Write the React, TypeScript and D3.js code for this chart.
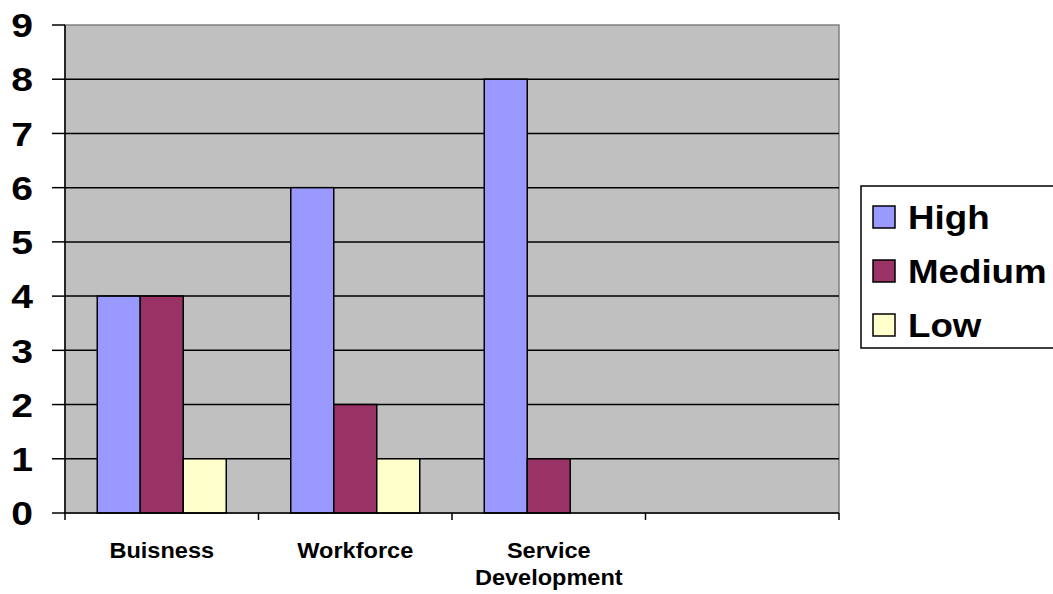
import React from "react";
import * as d3 from "d3";

const categories = ["Buisness", "Workforce", "Service Development", ""];
const categoryLines = [["Buisness"], ["Workforce"], ["Service", "Development"], [""]];
const seriesNames = ["High", "Medium", "Low"];
const seriesColors = ["#9999FF", "#993366", "#FFFFCC"];
const highValues = [4, 6, 8, null];
const mediumValues = [4, 2, 1, null];
const lowValues = [1, 1, 0, null];
const yTicks = [0, 1, 2, 3, 4, 5, 6, 7, 8, 9];

const W = 1053;
const H = 594;
const plot = { left: 65, right: 839, top: 25, bottom: 513 };
const FONT = "Arial, 'Liberation Sans', sans-serif";

export default function App() {
  const x = d3.scaleBand<string>().domain(categories).range([plot.left, plot.right]).padding(0);
  const xs = d3
    .scaleBand<string>()
    .domain(seriesNames)
    .range([0, x.bandwidth()])
    .paddingInner(0)
    .paddingOuter(0.75);
  const y = d3.scaleLinear().domain([0, 9]).range([plot.bottom, plot.top]);
  const seriesValues = [highValues, mediumValues, lowValues];

  const tickXs = categories.map((c) => x(c) as number).concat([plot.right]);

  return (
    <svg
      width={W}
      height={H}
      style={{ position: "absolute", left: 0, top: 0, background: "#fff" }}
      fontFamily={FONT}
    >
      <rect
        x={plot.left}
        y={plot.top}
        width={plot.right - plot.left}
        height={plot.bottom - plot.top}
        fill="#C0C0C0"
        stroke="#808080"
        strokeWidth={1.5}
      />
      {yTicks
        .filter((t) => t > 0 && t < 9)
        .map((t) => (
          <line
            key={"g" + t}
            x1={plot.left}
            x2={plot.right}
            y1={y(t)}
            y2={y(t)}
            stroke="#000"
            strokeWidth={1.5}
          />
        ))}
      {categories.map((c, ci) =>
        seriesNames.map((s, si) => {
          const v = seriesValues[si][ci];
          if (v === null || v === undefined || v === 0) return null;
          return (
            <rect
              key={c + s}
              x={(x(c) as number) + (xs(s) as number)}
              y={y(v)}
              width={xs.bandwidth()}
              height={y(0) - y(v)}
              fill={seriesColors[si]}
              stroke="#000"
              strokeWidth={1.5}
            />
          );
        })
      )}
      <line x1={plot.left} x2={plot.left} y1={plot.top} y2={plot.bottom} stroke="#000" strokeWidth={1.5} />
      <line x1={plot.left} x2={plot.right} y1={plot.bottom} y2={plot.bottom} stroke="#000" strokeWidth={1.5} />
      {yTicks.map((t) => (
        <g key={"yt" + t}>
          <line x1={plot.left - 13} x2={plot.left} y1={y(t)} y2={y(t)} stroke="#000" strokeWidth={1.5} />
          <text
            transform={`translate(33,${y(t)}) scale(1.15,1)`}
            dy="0.36em"
            textAnchor="end"
            fontSize={34}
            fontWeight="bold"
            fill="#000"
          >
            {t}
          </text>
        </g>
      ))}
      {tickXs.map((tx, i) => (
        <line key={"xt" + i} x1={tx} x2={tx} y1={plot.bottom} y2={plot.bottom + 7} stroke="#000" strokeWidth={1.5} />
      ))}
      {categories.map((c, ci) => (
        <text
          key={"cl" + ci}
          transform={`translate(${(x(c) as number) + x.bandwidth() / 2},558) scale(1.07,1)`}
          textAnchor="middle"
          fontSize={22}
          fontWeight="bold"
          fill="#000"
        >
          {categoryLines[ci].map((ln, li) => (
            <tspan key={li} x={0} dy={li === 0 ? 0 : 27}>
              {ln}
            </tspan>
          ))}
        </text>
      ))}
      <rect x={861} y={186} width={220} height={162} fill="#fff" stroke="#000" strokeWidth={1.5} />
      {seriesNames.map((s, si) => {
        const cy = 217 + si * 54;
        return (
          <g key={"lg" + s}>
            <rect x={873} y={cy - 11} width={22} height={22} fill={seriesColors[si]} stroke="#000" strokeWidth={1.5} />
            <text
              transform={`translate(908,${cy + 12}) scale(1.08,1)`}
              fontSize={34}
              fontWeight="bold"
              fill="#000"
            >
              {s}
            </text>
          </g>
        );
      })}
    </svg>
  );
}
